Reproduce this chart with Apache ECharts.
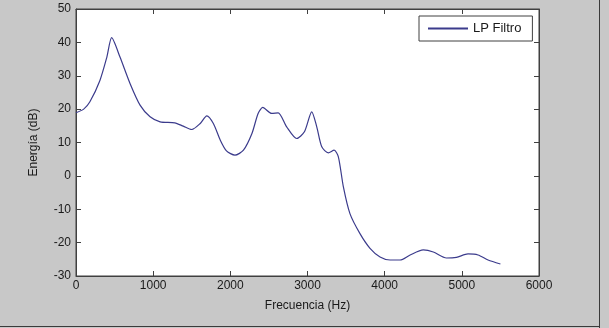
<!DOCTYPE html>
<html>
<head>
<meta charset="utf-8">
<script src="https://cdn.jsdelivr.net/npm/echarts@6/dist/echarts.min.js"></script>
<style>
html,body{margin:0;padding:0;background:#c8c8c8;}
#c{width:609px;height:328px;}
</style>
</head>
<body>
<div id="c"></div>
<script>
const freqs = [0, 100, 180, 310, 400, 462, 570, 700, 830, 960, 1090, 1280, 1390, 1500, 1610, 1695, 1780, 1870, 1950, 2060, 2170, 2280, 2360, 2420, 2535, 2620, 2730, 2860, 2960, 3055, 3120, 3185, 3270, 3345, 3400, 3465, 3550, 3680, 3810, 3940, 4070, 4200, 4330, 4500, 4630, 4800, 4930, 5080, 5210, 5340, 5500];
const energy = [18.9, 20, 22.2, 28.6, 35.6, 41.4, 35.6, 27.7, 21.2, 17.7, 16.2, 15.9, 14.9, 13.9, 15.7, 18.0, 15.7, 10.7, 7.5, 6.2, 7.7, 12.7, 18.7, 20.5, 18.7, 18.9, 14.7, 11.2, 13.2, 19.2, 14.7, 8.7, 6.9, 7.7, 5.7, -3.3, -11.3, -17.3, -21.7, -24.3, -25.2, -25.2, -23.7, -22.2, -22.8, -24.6, -24.4, -23.4, -23.7, -25.2, -26.4];
const seriesName = 'LP Filtro';
const xTitle = 'Frecuencia (Hz)';
const yTitle = 'Energía (dB)';

const font = 'Liberation Sans, Arial, sans-serif';
const chart = echarts.init(document.getElementById('c'));
const axCol = '#404040';
const labelStyle = {color: '#1a1a1a', fontSize: 12, fontFamily: font, formatter: v => String(v)};
chart.setOption({
  backgroundColor: '#c8c8c8',
  animation: false,
  grid: {left: 76, right: 70, top: 9, bottom: 52, show: true, backgroundColor: '#ffffff', borderColor: axCol, borderWidth: 1},
  legend: {
    data: [seriesName], left: 419, top: 16,
    padding: [6, 11, 6, 9], itemWidth: 40, itemHeight: 2, itemGap: 7,
    icon: 'rect',
    borderColor: axCol, borderWidth: 1, backgroundColor: '#ffffff',
    textStyle: {color: '#1a1a1a', fontSize: 13, fontFamily: font}
  },
  xAxis: [{
    type: 'value', min: 0, max: 6000, interval: 1000,
    name: xTitle, nameLocation: 'middle', nameGap: 24,
    nameTextStyle: {color: '#1a1a1a', fontSize: 12, fontFamily: font},
    axisLine: {show: true, onZero: false, lineStyle: {color: axCol}},
    axisTick: {show: true, inside: true, length: 5, lineStyle: {color: axCol}},
    axisLabel: Object.assign({margin: 4}, labelStyle),
    splitLine: {show: false}
  }, {
    type: 'value', min: 0, max: 6000, interval: 1000, position: 'top',
    axisLine: {show: true, onZero: false, lineStyle: {color: axCol}},
    axisTick: {show: true, inside: true, length: 5, lineStyle: {color: axCol}},
    axisLabel: {show: false}, splitLine: {show: false}
  }],
  yAxis: [{
    type: 'value', min: -30, max: 50, interval: 10,
    name: yTitle, nameLocation: 'middle', nameGap: 36,
    nameTextStyle: {color: '#1a1a1a', fontSize: 12, fontFamily: font},
    axisLine: {show: true, onZero: false, lineStyle: {color: axCol}},
    axisTick: {show: true, inside: true, length: 5, lineStyle: {color: axCol}},
    axisLabel: Object.assign({margin: 5}, labelStyle),
    splitLine: {show: false}
  }, {
    type: 'value', min: -30, max: 50, interval: 10, position: 'right',
    axisLine: {show: true, onZero: false, lineStyle: {color: axCol}},
    axisTick: {show: true, inside: true, length: 5, lineStyle: {color: axCol}},
    axisLabel: {show: false}, splitLine: {show: false}
  }],
  graphic: [
    {type: 'line', shape: {x1: 599.5, y1: 0, x2: 599.5, y2: 328}, style: {stroke: '#3a3a3a', lineWidth: 1}},
    {type: 'line', shape: {x1: 0, y1: 326.5, x2: 600, y2: 326.5}, style: {stroke: '#3a3a3a', lineWidth: 1}}
  ],
  series: [{
    name: seriesName, type: 'line', xAxisIndex: 0, yAxisIndex: 0,
    data: freqs.map((f, i) => [f, energy[i]]),
    smooth: 0.25, showSymbol: false, symbol: 'none',
    lineStyle: {color: '#3b3b8c', width: 1.2},
    itemStyle: {color: '#3b3b8c'}
  }]
});
</script>
</body>
</html>
